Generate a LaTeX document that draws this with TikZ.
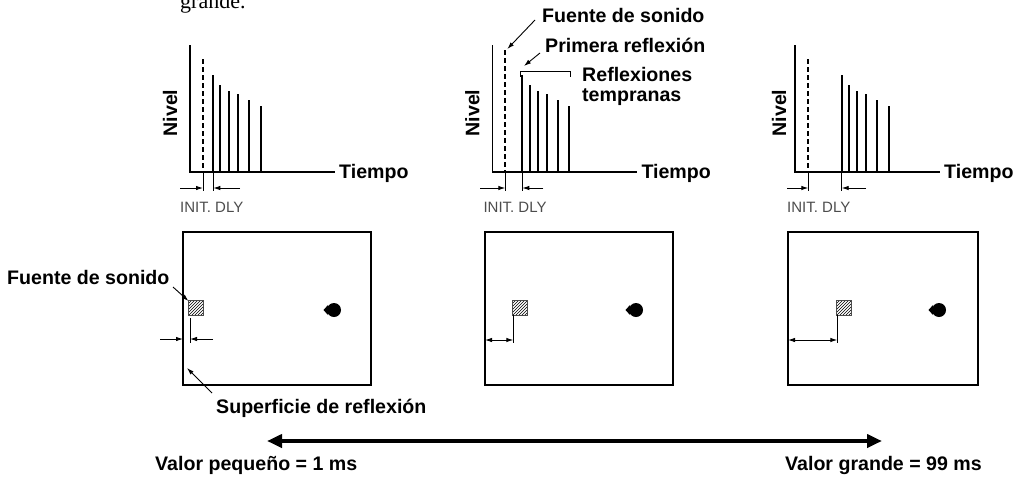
\documentclass[tikz,border=0pt]{standalone}
\usepackage{fontspec}
\setmainfont{Liberation Sans}
\newfontfamily\grandefont{Liberation Serif}
\usetikzlibrary{arrows.meta,patterns}

\begin{document}
\begin{tikzpicture}[x=1pt,y=-1pt,
    lbl/.style={font=\bfseries\fontsize{19.6}{21}\selectfont, inner sep=0pt},
    dly/.style={font=\fontsize{15}{17}\selectfont, text=black!70, inner sep=0pt},
    axis/.style={line width=1.6pt},
    spike/.style={line width=1.9pt},
    tick/.style={line width=0.9pt},
    tip/.style={line width=0.9pt, -{Latex[length=7pt,width=4.5pt]}},
    dimtip/.style={line width=0.9pt, {Latex[length=7pt,width=4.5pt]}-{Latex[length=7pt,width=4.5pt]}},
    wall/.style={line width=2.6pt},
    src/.style={draw=black!70, line width=0.8pt, pattern=north east lines}]
  \useasboundingbox (0,0) rectangle (1018,480);
  \clip (0,0) rectangle (1018,480);

  % cut-off text at the top
  \node[font=\grandefont\fontsize{22}{24}\selectfont, anchor=base west, inner sep=0pt] (grande) at (180,8) {grande.};

  % graph 1 (small delay)
  \begin{scope}[shift={(190,0)}]
    \draw[axis] (0,45) -- (0,172) -- (145,172);
    \node[lbl, anchor=west] (tiempoA) at (149,173) {Tiempo};
    \node[lbl, rotate=90] (nivelA) at (-20,113) {Nivel};
    \draw[spike, dash pattern=on 5pt off 3pt] (13,59) -- (13,172);
    \draw[spike] (23.3,75) -- (23.3,172);
    \draw[spike] (30.3,85) -- (30.3,172);
    \draw[spike] (39,91) -- (39,172);
    \draw[spike] (47.7,94) -- (47.7,172);
    \draw[spike] (58.7,100) -- (58.7,172);
    \draw[spike] (70.7,106) -- (70.7,172);
    \draw[tick] (13,172) -- (13,191);
    \draw[tick] (23.3,172) -- (23.3,191);
    \draw[tip] (-10,188) -- (13,188);
    \draw[tip] (50,188) -- (23.3,188);
    \node[dly, anchor=west] (dlyA) at (-10,207) {INIT. DLY};
  \end{scope}

  % graph 2 (middle value)
  \begin{scope}[shift={(492.3,0)}]
    \draw[axis] (0,45) -- (0,172) -- (145,172);
    \node[lbl, anchor=west] (tiempoB) at (149,173) {Tiempo};
    \node[lbl, rotate=90] (nivelB) at (-20,113) {Nivel};
    \draw[spike, dash pattern=on 5pt off 3pt] (13,50) -- (13,172);
    \draw[spike] (30,75) -- (30,172);
    \draw[spike] (37.4,85) -- (37.4,172);
    \draw[spike] (46,91) -- (46,172);
    \draw[spike] (55,94) -- (55,172);
    \draw[spike] (66,100) -- (66,172);
    \draw[spike] (77,106) -- (77,172);
    \draw[tick] (13,172) -- (13,191);
    \draw[tick] (30,172) -- (30,191);
    \draw[tip] (-12,188) -- (13,188);
    \draw[tip] (51,188) -- (30,188);
    \node[dly, anchor=west] (dlyB) at (-9,207) {INIT. DLY};
    \coordinate (dashTop) at (15,49);
    \coordinate (bracketL) at (28,71.7);
    \coordinate (bracketR) at (78,71.7);
  \end{scope}

  % labels of graph 2
  \node[lbl, anchor=west] (fuenteB) at (542,15) {Fuente de sonido};
  \node[lbl, anchor=west] (primera) at (545,45) {Primera reflexión};
  \node[lbl, anchor=north west, align=left, font=\bfseries\fontsize{19.6}{20}\selectfont] (tempranas) at (582,67) {Reflexiones\\tempranas};
  \draw[tip] (535,20) -- (dashTop);
  \draw[tip] (540,53) -- (524,66);
  \draw[tick] ([yshift=-5pt]bracketL) -- (bracketL) -- (bracketR) -- ([yshift=-5pt]bracketR);

  % graph 3 (large delay)
  \begin{scope}[shift={(795,0)}]
    \draw[axis] (0,45) -- (0,172) -- (145,172);
    \node[lbl, anchor=west] (tiempoC) at (149,173) {Tiempo};
    \node[lbl, rotate=90] (nivelC) at (-16,113) {Nivel};
    \draw[spike, dash pattern=on 5pt off 3pt] (13.3,59) -- (13.3,172);
    \draw[spike] (46.7,75) -- (46.7,172);
    \draw[spike] (54,85) -- (54,172);
    \draw[spike] (62.3,91) -- (62.3,172);
    \draw[spike] (71,94) -- (71,172);
    \draw[spike] (81.7,100) -- (81.7,172);
    \draw[spike] (94,106) -- (94,172);
    \draw[tick] (13.3,172) -- (13.3,191);
    \draw[tick] (46.7,172) -- (46.7,191);
    \draw[tip] (-8,188) -- (13.3,188);
    \draw[tip] (71,188) -- (46.7,188);
    \node[dly, anchor=west] (dlyC) at (-8,207) {INIT. DLY};
  \end{scope}

  % room 1
  \begin{scope}[shift={(183,232)}]
    \draw[wall] (0,0) rectangle (188,153);
    \draw[src] (5.5,68) rectangle ++(15,15);
    \draw[tick] (7,86) -- (7,111);
    \draw[tip] (-23,107) -- (0,107);
    \draw[tip] (30,107) -- (7,107);
    \fill (151,78) circle (7pt);
    \fill (145,73) -- (140.5,78) -- (145,83) -- cycle;
    \coordinate (srcA) at (5.5,69);
    \coordinate (wallA) at (4,136);
  \end{scope}
  \node[lbl, anchor=west] (fuenteA) at (7,277) {Fuente de sonido};
  \node[lbl, anchor=west] (superficie) at (216,408) {Superficie de reflexión};
  \draw[tip] (173,287) -- (srcA);
  \draw[tip] (212,393) -- (wallA);

  % room 2
  \begin{scope}[shift={(485,232)}]
    \draw[wall] (0,0) rectangle (188,153);
    \draw[src] (27.7,68) rectangle ++(15,15);
    \draw[tick] (28.3,83) -- (28.3,111);
    \draw[dimtip] (0,108) -- (28.3,108);
    \fill (151,78) circle (7pt);
    \fill (145,73) -- (140.5,78) -- (145,83) -- cycle;
  \end{scope}

  % room 3
  \begin{scope}[shift={(788,232)}]
    \draw[wall] (0,0) rectangle (190,153);
    \draw[src] (48.7,68) rectangle ++(15,15);
    \draw[tick] (49.3,83) -- (49.3,111);
    \draw[dimtip] (0,108) -- (49.3,108);
    \fill (151,78) circle (7pt);
    \fill (145,73) -- (140.5,78) -- (145,83) -- cycle;
  \end{scope}

  % range of the parameter
  \coordinate (small) at (267,441);
  \coordinate (large) at (882,441);
  \draw[line width=4pt, {Triangle[length=15pt,width=13pt]}-{Triangle[length=15pt,width=13pt]}] (small) -- (large);
  \node[lbl, anchor=west] (valmin) at (155,465) {Valor pequeño = 1 ms};
  \node[lbl, anchor=east] (valmax) at (982,465) {Valor grande = 99 ms};
\end{tikzpicture}
\end{document}
